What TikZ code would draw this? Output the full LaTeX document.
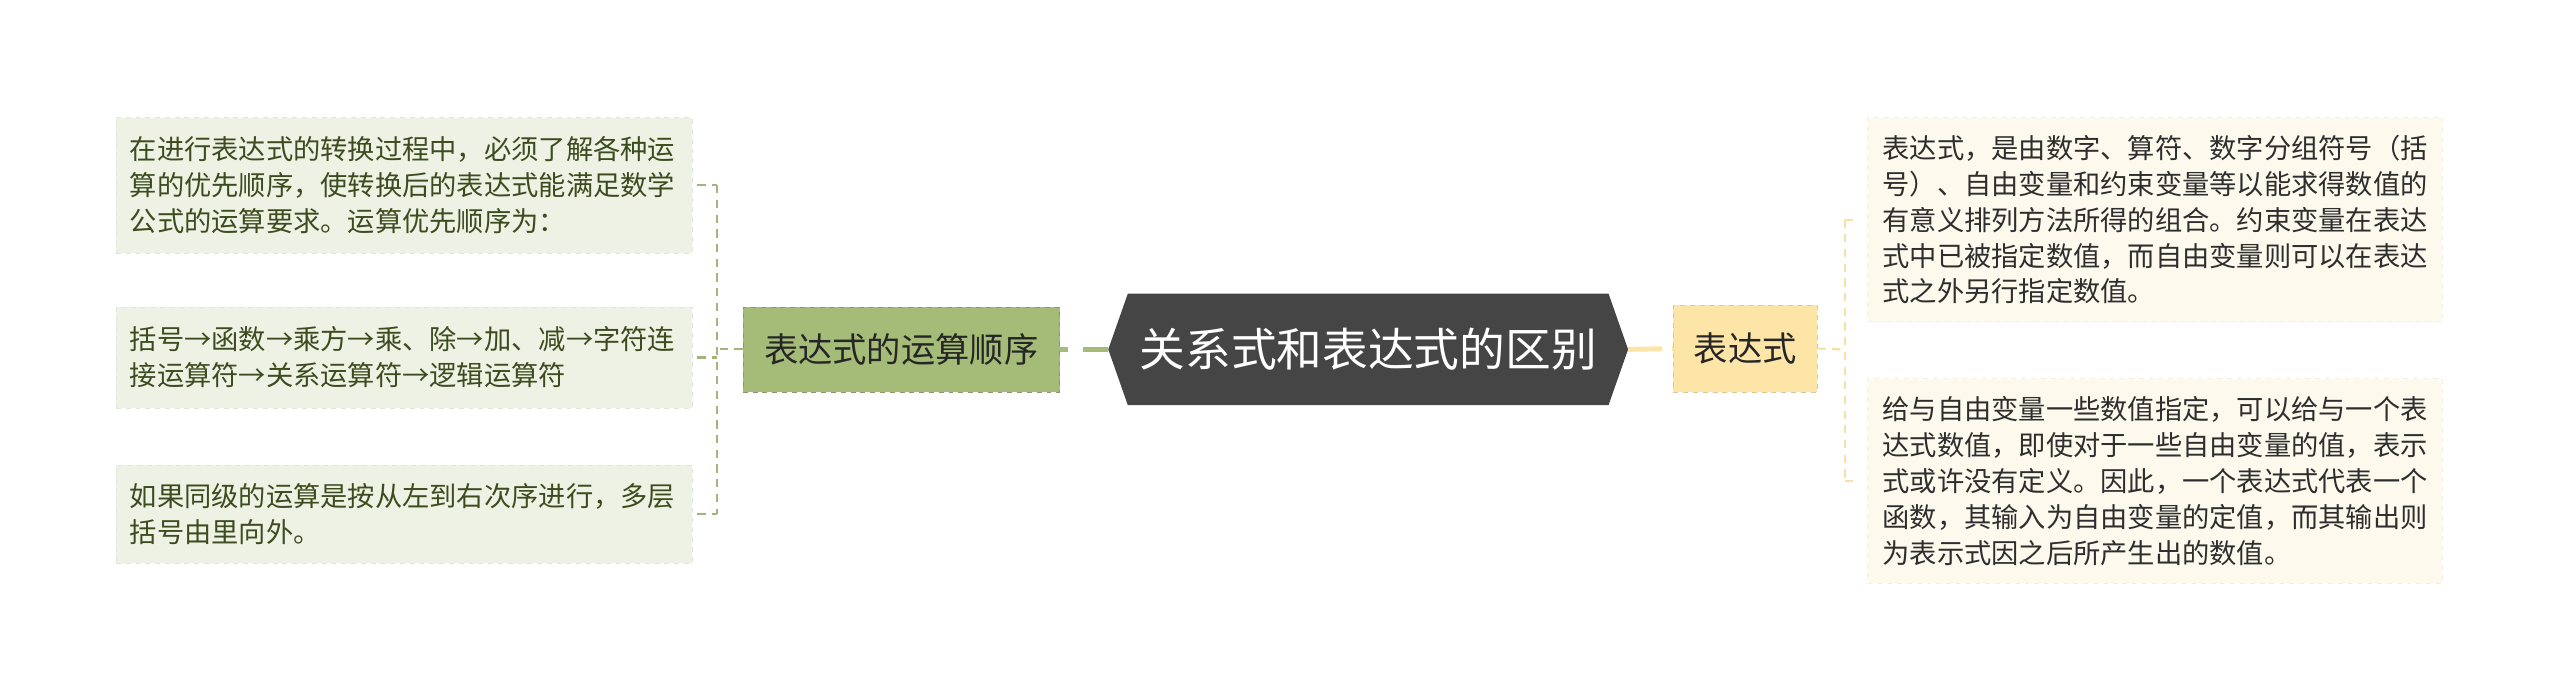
\documentclass[tikz,border=0pt]{standalone}
\usepackage{fontspec}
\setmainfont{Noto Sans CJK SC}
\usepackage{tikz}
\usetikzlibrary{calc}
\usetikzlibrary{backgrounds}

\definecolor{rootgray}{HTML}{454545}
\definecolor{greenfill}{HTML}{A5BC78}
\definecolor{greenline}{HTML}{A3B47C}
\definecolor{greentext}{HTML}{3C4C1E}
\definecolor{leaflfill}{HTML}{EEF2E4}
\definecolor{orangefill}{HTML}{FDE5A8}
\definecolor{orangeline}{HTML}{F7DFA6}
\definecolor{leafrfill}{HTML}{FDF9EC}

\tikzset{
  rootnode/.style={minimum width=318pt,minimum height=68pt,inner sep=0pt,text=white,font=\fontsize{28}{32}\selectfont},
  branchl/.style={fill=greenfill,draw=greenline!85!black,dashed,minimum width=194pt,minimum height=52pt,inner sep=0pt,text=black!85,font=\fontsize{21}{25}\selectfont},
  branchr/.style={fill=orangefill,draw=orangeline!90!black,dashed,minimum width=88pt,minimum height=53pt,inner sep=0pt,text=black!85,font=\fontsize{21}{25}\selectfont},
  leafl/.style={fill=leaflfill,draw=leaflfill!95!black,dashed,text=greentext,text width=336pt,inner xsep=8.5pt,inner ysep=0pt,align=left,font=\fontsize{16.7}{22}\selectfont},
  leafr/.style={fill=leafrfill,draw=leafrfill!96!black,dashed,text=black!82,text width=334pt,inner xsep=9pt,inner ysep=0pt,align=left,font=\fontsize{16.7}{22}\selectfont},
  wirel/.style={draw=greenline,line width=1.3pt,dash pattern=on 5pt off 4pt},
  wirer/.style={draw=orangeline,line width=1.3pt,dash pattern=on 5pt off 4pt}
}

\begin{document}
\begin{tikzpicture}[x=1pt,y=-1pt]
\useasboundingbox (0,0) rectangle (1568,428);
% centre
\node[rootnode] (root) at (838,214) {关系式和表达式的区别};
\begin{scope}[on background layer]
\fill[rootgray] (root.west) -- ([xshift=12pt]root.north west) -- ([xshift=-12pt]root.north east) -- (root.east) -- ([xshift=-12pt]root.south east) -- ([xshift=12pt]root.south west) -- cycle;
\end{scope}
% branches
\node[branchl] (order) at (552,214) {表达式的运算顺序};
\node[branchr] (expr) at (1069,213.5) {表达式};
\draw[greenfill,line width=3pt,dash pattern=on 5pt off 9pt on 60pt off 0pt] (order.east) -- (root.west);
\draw[orangefill,line width=3pt,dash pattern=on 21pt off 6pt on 60pt off 0pt] (root.east) -- (expr.west);
% left leaves
\node[leafl,minimum height=83pt] (l1) at (247.5,113.5) {在进行表达式的转换过程中，必须了解各种运\\算的优先顺序，使转换后的表达式能满足数学\\公式的运算要求。运算优先顺序为：};
\node[leafl,minimum height=62pt] (l2) at (247.5,219) {括号→函数→乘方→乘、除→加、减→字符连\\接运算符→关系运算符→逻辑运算符};
\node[leafl,minimum height=60pt] (l3) at (247.5,315) {如果同级的运算是按从左到右次序进行，多层\\括号由里向外。};
\coordinate (lbus) at (439,214);
\draw[wirel] (order.west) -- (lbus);
\draw[wirel] (lbus |- l1.east) -- (lbus |- l3.east);
\foreach \n in {l1,l2,l3}
  \draw[wirel] ([xshift=3pt]\n.east) -- (lbus |- \n.east);
% right leaves
\node[leafr,minimum height=125pt] (r1) at (1320,134.5) {表达式，是由数字、算符、数字分组符号（括\\号）、自由变量和约束变量等以能求得数值的\\有意义排列方法所得的组合。约束变量在表达\\式中已被指定数值，而自由变量则可以在表达\\式之外另行指定数值。};
\node[leafr,minimum height=125pt] (r2) at (1320,294.5) {给与自由变量一些数值指定，可以给与一个表\\达式数值，即使对于一些自由变量的值，表示\\式或许没有定义。因此，一个表达式代表一个\\函数，其输入为自由变量的定值，而其输出则\\为表示式因之后所产生出的数值。};
\coordinate (rbus) at (1130,214);
\draw[wirer] (expr.east) -- (rbus);
\draw[wirer] (rbus |- r1.west) -- (rbus |- r2.west);
\foreach \n in {r1,r2}
  \draw[wirer] (rbus |- \n.west) -- ([xshift=-6pt]\n.west);
\end{tikzpicture}
\end{document}
